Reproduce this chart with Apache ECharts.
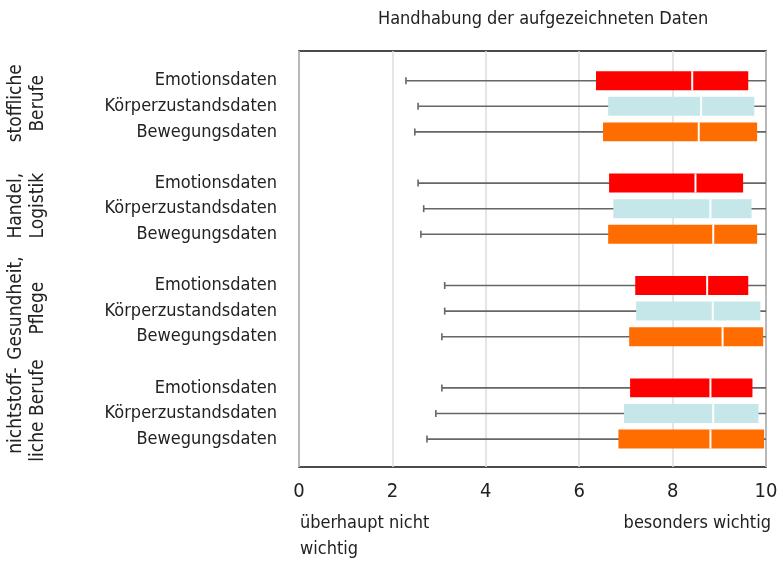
<!DOCTYPE html>
<html><head><meta charset="utf-8">
<script src="https://cdn.jsdelivr.net/npm/echarts@6/dist/echarts.min.js"></script>
<style>html,body{margin:0;padding:0;background:#fff}#c{width:782px;height:561px}</style>
</head><body><div id="c"></div>
<script>
const FONT = "'Liberation Sans Narrow','DejaVu Sans Condensed','Roboto Condensed',sans-serif";
const groups = ['stoffliche\nBerufe', 'Handel,\nLogistik', 'Gesundheit,\nPflege', 'nichtstoff-\nliche Berufe'];
const rowNames = ['Emotionsdaten', 'Körperzustandsdaten', 'Bewegungsdaten'];
const rowColors = ['#ff0000', '#c5e7e9', '#ff6d00'];
const xTicks = [0, 2, 4, 6, 8, 10];
// per row (group by group, 3 rows each)
const minVals = [2.29, 2.55, 2.48, 2.55, 2.67, 2.61, 3.12, 3.12, 3.06, 3.06, 2.93, 2.74];
const q1Vals  = [6.36, 6.62, 6.51, 6.64, 6.73, 6.62, 7.20, 7.22, 7.07, 7.09, 6.96, 6.84];
const medVals = [8.42, 8.61, 8.56, 8.49, 8.81, 8.87, 8.74, 8.86, 9.07, 8.81, 8.87, 8.81];
const q3Vals  = [9.62, 9.75, 9.81, 9.51, 9.69, 9.81, 9.62, 9.88, 9.94, 9.71, 9.84, 9.96];
const maxVals = [10, 10, 10, 10, 10, 10, 10, 10, 10, 10, 10, 10];

const boxData = [];
for (let i = 0; i < minVals.length; i++) {
  const g = Math.floor(i / 3), r = i % 3;
  boxData.push([g * 4 + r, minVals[i], q1Vals[i], medVals[i], q3Vals[i], maxVals[i], r]);
}
const groupData = groups.map((g, i) => [i * 4 + 1, i]);

const chart = echarts.init(document.getElementById('c'), null, {renderer: 'canvas'});
chart.setOption({
  animation: false,
  backgroundColor: '#fff',
  title: [
    {text: 'Handhabung der aufgezeichneten Daten', left: 373, top: 5,
     textStyle: {fontFamily: FONT, fontSize: 18, fontWeight: 'normal', color: '#222'}},
    {text: 'überhaupt nicht\nwichtig', left: 295, top: 505,
     textStyle: {fontFamily: FONT, fontSize: 18, fontWeight: 'normal', color: '#222', lineHeight: 26}},
    {text: 'besonders wichtig', right: 6, top: 505,
     textStyle: {fontFamily: FONT, fontSize: 18, fontWeight: 'normal', color: '#222', lineHeight: 26}}
  ],
  grid: {left: 299, top: 51, width: 467, height: 416, show: true, borderColor: '#111', borderWidth: 1.5, containLabel: false},
  xAxis: {
    type: 'value', min: xTicks[0], max: xTicks[xTicks.length - 1], interval: 2,
    axisLine: {show: false}, axisTick: {show: false},
    axisLabel: {fontFamily: FONT, fontSize: 20, color: '#222', margin: 15},
    splitLine: {show: true, lineStyle: {color: '#dcdcdc', width: 1.5}}
  },
  yAxis: {type: 'value', inverse: true, min: -1.16, max: 15.09, show: false},
  series: [
    {
      type: 'custom', clip: false,
      data: boxData,
      renderItem: function (params, api) {
        const y = api.value(0);
        const pMin = api.coord([api.value(1), y]);
        const pQ1 = api.coord([api.value(2), y]);
        const pMed = api.coord([api.value(3), y]);
        const pQ3 = api.coord([api.value(4), y]);
        const pMax = api.coord([api.value(5), y]);
        const p0 = api.coord([0, y]);
        const band = api.size([0, 1])[1];
        const h = band * 0.74;
        const r = api.value(6);
        return {
          type: 'group',
          children: [
            {type: 'line', shape: {x1: pMin[0], y1: pMin[1], x2: pMax[0], y2: pMax[1]},
             style: {stroke: '#666', lineWidth: 1.6}},
            {type: 'line', shape: {x1: pMin[0], y1: pMin[1] - 3.5, x2: pMin[0], y2: pMin[1] + 3.5},
             style: {stroke: '#666', lineWidth: 1.6}},
            {type: 'rect', shape: {x: pQ1[0], y: pQ1[1] - h / 2, width: pQ3[0] - pQ1[0], height: h},
             style: {fill: rowColors[r]}},
            {type: 'line', shape: {x1: pMed[0], y1: pMed[1] - h / 2, x2: pMed[0], y2: pMed[1] + h / 2},
             style: {stroke: '#fff', lineWidth: 2}},
            {type: 'text', x: p0[0] - 22, y: p0[1],
             style: {text: rowNames[r], textAlign: 'right', textVerticalAlign: 'middle',
                     fontFamily: FONT, fontSize: 18, fill: '#222'}}
          ]
        };
      },
      z: 5
    },
    {
      type: 'custom', clip: false,
      data: groupData,
      renderItem: function (params, api) {
        const p = api.coord([0, api.value(0)]);
        return {
          type: 'text', x: p[0] - 272, y: p[1] - 3, rotation: Math.PI / 2,
          style: {text: groups[api.value(1)], textAlign: 'center', textVerticalAlign: 'middle',
                  fontFamily: FONT, fontSize: 19, lineHeight: 22, fill: '#222'}
        };
      }
    }
  ]
});
</script></body></html>
